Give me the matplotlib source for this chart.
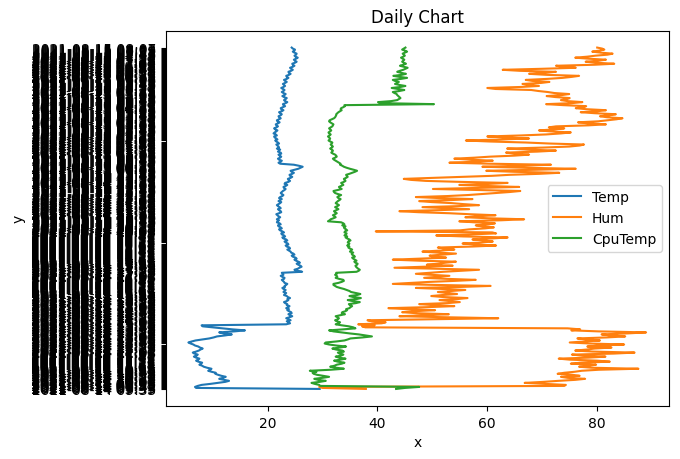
import pandas as pd
import matplotlib
matplotlib.use("Agg")
import matplotlib.pyplot as plt

# one timestamp per reading, bottom -> top
times = pd.date_range(end="2021-08-15 08:07", periods=339, freq="4min").strftime("%Y-%m-%d %H:%M").tolist()

temp = [29.5, 7.0, 6.8, 7.3, 8.0, 9.6, 11.0, 12.3, 13.0, 12.1, 11.2, 11.9, 12.4, 11.6, 11.0, 10.5, 10.6, 9.8, 9.2, 9.6,
        9.8, 9.0, 8.4, 8.1, 7.6, 7.9, 8.1, 7.4, 7.0, 7.4, 7.6, 7.0, 6.6, 7.1, 7.3, 6.7, 6.4, 7.0, 7.5, 7.8,
        8.2, 7.7, 7.4, 6.8, 6.5, 6.0, 5.6, 6.2, 6.9, 8.1, 9.4, 10.2, 10.8, 12.3, 13.5, 12.0, 11.2, 14.0, 15.9, 13.6,
        11.8, 9.9, 8.2, 8.0, 23.4, 24.1, 23.9, 23.5, 24.2, 23.8, 23.4, 24.0, 24.5, 24.1, 23.8, 24.4, 24.3, 23.9, 23.6, 23.9,
        23.4, 23.8, 24.0, 23.5, 23.6, 23.2, 23.0, 23.5, 23.8, 23.6, 24.1, 23.7, 23.5, 23.0, 23.2, 23.4, 22.9, 23.1, 23.3, 22.9,
        22.7, 23.2, 23.1, 23.4, 23.6, 23.1, 23.0, 22.8, 22.6, 23.0, 23.1, 22.7, 22.4, 22.9, 22.8, 22.6, 26.3, 25.4, 24.9, 25.5,
        25.8, 26.2, 26.0, 25.6, 25.3, 25.9, 25.6, 25.2, 24.9, 25.3, 25.1, 24.6, 24.4, 24.9, 24.7, 24.3, 24.2, 23.9, 23.6, 24.1,
        24.0, 23.5, 23.3, 23.8, 23.7, 23.3, 23.1, 23.6, 23.4, 22.9, 22.7, 23.2, 23.0, 22.6, 22.5, 23.0, 22.7, 22.3, 22.1, 22.6,
        22.4, 22.0, 21.9, 22.4, 22.2, 21.7, 21.8, 22.1, 21.7, 22.0, 22.3, 22.0, 21.8, 21.6, 22.1, 22.5, 22.4, 22.1, 21.9, 22.4,
        22.2, 21.9, 21.7, 22.0, 22.3, 22.5, 22.0, 22.3, 22.6, 22.1, 22.3, 22.7, 22.9, 22.6, 22.4, 22.6, 22.8, 23.1, 23.3, 23.0,
        22.9, 23.3, 23.6, 23.1, 23.2, 23.8, 24.1, 23.8, 23.7, 24.2, 24.5, 24.1, 24.0, 24.5, 24.8, 24.4, 24.2, 24.9, 25.6, 26.0,
        26.4, 25.7, 24.8, 22.3, 22.0, 22.4, 22.6, 22.1, 21.9, 22.3, 22.5, 22.2, 22.0, 22.5, 22.4, 21.9, 22.1, 22.3, 21.7, 22.1,
        22.0, 21.8, 21.6, 22.1, 21.9, 21.6, 21.4, 21.8, 21.6, 21.3, 21.2, 21.7, 21.5, 21.1, 21.3, 21.6, 21.8, 21.4, 21.2, 21.6,
        21.9, 21.6, 21.5, 21.9, 22.2, 21.8, 21.7, 22.1, 22.4, 22.1, 22.0, 22.4, 22.6, 22.3, 22.1, 22.6, 22.9, 22.5, 22.4, 22.8,
        23.2, 22.9, 22.8, 23.3, 23.6, 23.2, 23.0, 23.3, 23.5, 23.0, 22.7, 23.1, 23.3, 22.9, 22.6, 22.9, 23.1, 22.8, 22.5, 22.9,
        23.2, 23.0, 22.8, 23.2, 23.5, 23.2, 23.0, 23.5, 23.8, 23.5, 23.4, 23.9, 24.2, 23.9, 23.8, 24.3, 24.6, 24.3, 24.1, 24.6,
        24.9, 24.6, 24.5, 25.0, 25.3, 25.0, 24.8, 25.2, 25.5, 25.1, 24.9, 25.2, 25.3, 24.9, 24.6, 24.9, 25.0, 24.6, 24.4]

hum = [37.9, 30.0, 29.4, 74.0, 74.3, 70.5, 66.8, 70.2, 72.9, 76.0, 77.8, 74.6, 73.4, 76.8, 75.5, 72.8, 74.0, 75.9, 77.2, 80.3,
       87.5, 79.0, 76.7, 78.5, 79.8, 75.2, 77.0, 82.3, 80.0, 75.0, 73.0, 78.4, 81.5, 77.3, 75.4, 83.0, 86.8, 79.2, 76.0, 78.1,
       79.5, 82.6, 78.2, 80.4, 84.9, 78.6, 75.0, 77.9, 80.5, 78.0, 76.4, 81.7, 85.1, 82.4, 80.8, 85.6, 88.9, 80.2, 75.3, 76.9,
       74.6, 37.8, 37.2, 39.5, 36.5, 40.8, 41.5, 39.0, 38.2, 50.6, 62.0, 52.4, 44.0, 48.9, 53.0, 47.1, 44.5, 46.8, 50.5, 45.3,
       42.0, 49.2, 54.0, 50.1, 47.6, 52.8, 55.0, 53.2, 51.3, 54.6, 56.4, 52.0, 49.8, 51.9, 54.5, 52.7, 51.0, 53.4, 56.0, 51.8,
       47.0, 55.2, 60.6, 50.4, 42.8, 46.0, 49.5, 54.1, 57.9, 52.6, 48.5, 50.7, 53.1, 49.8, 47.0, 49.5, 52.0, 55.3, 58.5, 50.9,
       43.1, 48.4, 53.7, 49.0, 51.0, 52.4, 54.3, 47.6, 42.8, 47.9, 52.5, 50.2, 49.5, 52.0, 54.3, 50.9, 48.2, 51.5, 54.0, 52.2,
       51.0, 57.3, 61.6, 57.8, 55.5, 58.9, 61.0, 59.4, 57.3, 60.8, 63.7, 55.6, 50.7, 56.9, 61.6, 60.9, 39.7, 55.0, 56.7, 59.6,
       61.2, 59.0, 57.9, 60.3, 61.4, 57.6, 54.9, 62.5, 66.7, 60.2, 56.0, 58.3, 61.5, 56.8, 53.0, 47.5, 44.0, 51.0, 56.7, 52.3,
       48.2, 54.6, 58.5, 55.7, 53.5, 49.9, 47.6, 53.4, 57.3, 51.2, 47.0, 52.8, 56.5, 59.0, 61.6, 64.1, 66.0, 57.8, 50.1, 58.4,
       65.8, 59.7, 54.9, 60.2, 63.7, 55.3, 48.8, 46.1, 44.8, 50.3, 55.5, 60.8, 64.0, 69.5, 73.1, 64.9, 59.8, 68.7, 76.1, 66.8,
       59.1, 66.3, 71.6, 60.5, 53.1, 57.8, 61.0, 56.9, 54.0, 57.7, 60.5, 64.9, 67.6, 65.0, 63.4, 69.1, 72.5, 67.3, 63.6, 70.2,
       74.9, 76.8, 77.6, 71.3, 67.0, 60.4, 56.1, 62.5, 67.6, 63.1, 60.0, 66.2, 70.7, 73.4, 75.2, 71.5, 69.4, 72.3, 74.0, 71.2,
       72.5, 78.4, 81.6, 78.3, 76.5, 80.2, 81.9, 83.5, 84.6, 81.8, 80.5, 82.3, 83.4, 79.6, 77.0, 80.1, 81.6, 78.0, 76.1, 77.5,
       78.0, 73.8, 70.7, 75.4, 77.3, 74.6, 73.4, 74.5, 75.0, 72.4, 70.8, 73.6, 74.9, 72.2, 71.0, 69.3, 68.0, 61.5, 60.0, 66.1,
       69.4, 67.5, 66.4, 69.8, 71.3, 68.2, 67.0, 70.9, 73.7, 75.4, 76.7, 70.8, 67.6, 70.4, 72.5, 65.9, 62.8, 70.0, 76.1, 74.0,
       72.5, 79.5, 83.1, 79.8, 77.9, 80.2, 81.6, 78.4, 76.0, 78.2, 79.7, 81.9, 82.8, 80.6, 79.1, 80.4, 81.3, 80.9, 80.0]

cpu_temp = [43.4, 45.0, 47.6, 29.6, 29.4, 28.6, 28.0, 29.5, 30.6, 29.2, 28.5, 30.0, 31.2, 30.1, 29.0, 28.4, 28.2, 28.9, 27.7, 31.5,
            33.9, 32.5, 31.4, 32.2, 32.6, 33.5, 34.0, 32.8, 32.1, 33.3, 34.2, 33.0, 32.4, 33.4, 33.8, 33.1, 32.8, 33.9, 33.6, 32.5,
            31.8, 33.2, 34.3, 32.5, 31.2, 30.4, 30.6, 32.5, 34.0, 34.6, 35.1, 37.3, 39.0, 37.8, 36.6, 34.9, 33.5, 32.0, 31.2, 33.8,
            36.0, 35.6, 34.8, 33.5, 32.4, 33.0, 33.2, 32.6, 32.3, 32.8, 33.0, 32.7, 32.4, 33.3, 34.1, 33.5, 33.6, 34.2, 34.5, 34.3,
            34.9, 35.1, 35.4, 35.0, 34.8, 36.1, 36.8, 35.5, 34.6, 36.2, 37.0, 35.6, 34.9, 36.3, 36.9, 36.0, 35.2, 34.9, 34.4, 33.9,
            33.2, 32.6, 32.3, 32.0, 32.0, 32.9, 33.5, 33.9, 33.8, 33.0, 32.4, 32.7, 32.6, 32.3, 32.6, 32.5, 36.2, 36.6, 36.8, 36.5,
            36.3, 36.1, 36.0, 36.3, 36.4, 36.0, 35.8, 36.2, 35.9, 35.6, 35.4, 35.9, 35.7, 35.4, 35.3, 35.6, 35.0, 35.2, 35.4, 35.0,
            34.7, 34.9, 34.5, 34.8, 34.9, 34.6, 34.7, 35.1, 34.9, 34.5, 34.2, 34.5, 34.0, 34.3, 34.4, 34.0, 34.1, 34.5, 34.3, 34.0,
            33.9, 34.2, 33.6, 34.0, 33.8, 33.4, 31.0, 31.3, 31.5, 32.0, 32.4, 32.2, 31.9, 32.3, 32.6, 32.3, 32.1, 32.5, 32.9, 32.6,
            32.3, 32.7, 33.0, 32.7, 32.4, 32.6, 32.8, 33.1, 33.3, 32.9, 32.7, 33.0, 33.4, 32.8, 32.3, 32.1, 32.0, 32.8, 33.5, 33.2,
            33.0, 33.4, 33.8, 33.6, 33.4, 33.9, 34.2, 34.0, 33.9, 34.3, 34.6, 34.4, 34.3, 34.9, 35.4, 35.9, 36.3, 35.7, 35.0, 34.4,
            33.9, 33.6, 33.2, 33.3, 33.0, 32.7, 32.4, 32.1, 31.9, 32.3, 32.6, 32.5, 32.3, 31.9, 31.6, 31.8, 31.9, 31.7, 31.4, 31.7,
            31.9, 31.7, 31.5, 31.7, 31.8, 31.4, 31.1, 31.3, 31.4, 31.2, 31.0, 31.3, 31.5, 31.2, 31.1, 31.4, 31.6, 31.4, 31.2, 31.5,
            31.8, 31.9, 32.0, 31.7, 31.4, 31.2, 31.3, 31.7, 32.1, 32.3, 32.4, 32.5, 32.5, 32.7, 32.9, 33.2, 33.5, 33.3, 33.4, 33.8,
            34.1, 34.0, 50.3, 40.6, 40.1, 42.5, 43.6, 43.9, 44.2, 44.0, 43.8, 43.6, 43.5, 43.1, 42.8, 44.0, 44.9, 43.7, 42.6, 44.2,
            45.1, 44.0, 43.2, 43.6, 43.9, 43.2, 42.8, 44.3, 45.4, 44.0, 42.9, 44.4, 45.2, 44.3, 43.6, 44.1, 44.7, 45.1, 45.5, 44.8,
            44.1, 44.7, 45.2, 44.8, 44.5, 44.7, 44.9, 44.6, 44.3, 44.7, 45.0, 44.8, 44.6, 45.0, 45.4, 45.0, 44.5, 44.8, 45.1]

assert len(temp) == len(hum) == len(cpu_temp) == len(times), (len(temp), len(hum), len(cpu_temp))

fig = plt.figure(figsize=(6.8, 4.6), dpi=100)
fig.subplots_adjust(left=0.2434, right=0.9838, bottom=0.1152, top=0.9315)
ax = fig.gca()

# values on x, time categories on y
ax.plot(temp, times, label="Temp")
ax.plot(hum, times, label="Hum")
ax.plot(cpu_temp, times, label="CpuTemp")

ax.set_title("Daily Chart")
ax.set_xlabel("x")
ax.set_ylabel("y")
ax.legend(loc="center right")

fig.savefig("out.png", dpi=100)
